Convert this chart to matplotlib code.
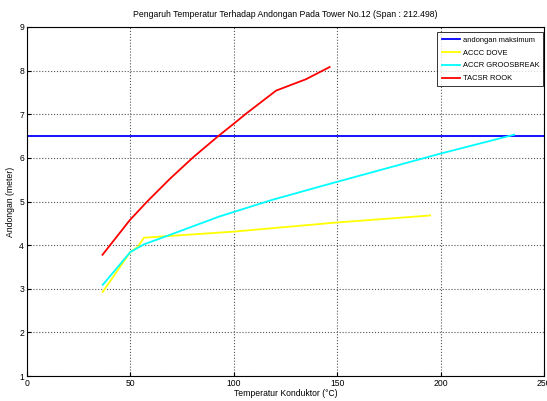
import matplotlib.pyplot as plt

plt.rcParams['font.family'] = ['Liberation Sans', 'DejaVu Sans']

# batas andongan maksimum
max_sag = 6.5

dove_x = [36.7, 50, 53.6, 56.6, 100, 150, 195]
dove_y = [2.93, 3.84, 3.96, 4.17, 4.31, 4.52, 4.68]

groos_x = [36.7, 50, 56.7, 69.4, 93.3, 118.8, 145.3, 199.4, 235.6]
groos_y = [3.09, 3.84, 4.02, 4.24, 4.66, 5.04, 5.39, 6.09, 6.53]

rook_x = [36.6, 49.9, 58.2, 69.4, 80.6, 92.6, 100, 106.2, 120.5, 134.9, 146.4]
rook_y = [3.78, 4.58, 5.0, 5.53, 6.02, 6.5, 6.78, 7.02, 7.54, 7.8, 8.08]

fig = plt.figure(figsize=(5.47, 4.01), dpi=100)
ax = fig.add_axes([0.049, 0.062, 0.9455, 0.871])

ax.axhline(max_sag, color='#0000ff', lw=1.3, label='andongan maksimum')
ax.plot(dove_x, dove_y, color='#ffff00', lw=1.3, label='ACCC DOVE')
ax.plot(groos_x, groos_y, color='#00ffff', lw=1.3, label='ACCR GROOSBREAK')
ax.plot(rook_x, rook_y, color='#ff0000', lw=1.3, label='TACSR ROOK')

ax.set_xlim(0, 250)
ax.set_ylim(1, 9)
ax.set_xticks([0, 50, 100, 150, 200, 250])
ax.set_yticks(range(1, 10))
ax.grid(True, linestyle=':', color='#555555', lw=0.8)
ax.tick_params(direction='in', labelsize=6.2, length=3, pad=2)

ax.set_title('Pengaruh Temperatur Terhadap Andongan Pada Tower No.12 (Span : 212.498)', fontsize=6.2, pad=7)
ax.set_xlabel('Temperatur Konduktor (\u00b0C)', fontsize=6.2, labelpad=1)
ax.set_ylabel('Andongan (meter)', fontsize=6.2, labelpad=3)

leg = ax.legend(loc='upper right', bbox_to_anchor=(0.9987, 0.9845), fontsize=5.4,
                fancybox=False, edgecolor='black', handlelength=2.5, handletextpad=0.3,
                borderaxespad=0, labelspacing=0.75, borderpad=0.55)
leg.get_frame().set_linewidth(0.7)

fig.savefig('out.png', dpi=100)
